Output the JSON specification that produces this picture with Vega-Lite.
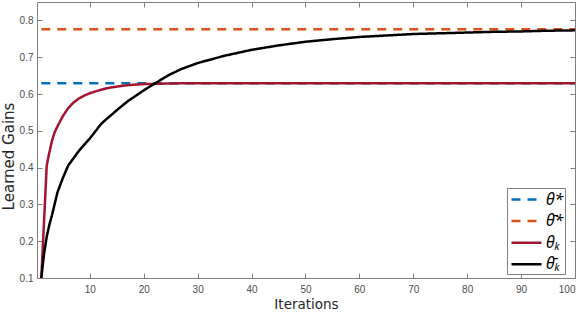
{
  "$schema": "https://vega.github.io/schema/vega-lite/v6.json",
  "width": 538,
  "height": 276,
  "autosize": {"type": "none"},
  "padding": {"left": 37, "top": 2, "right": 9, "bottom": 36},
  "background": "white",
  "datasets": {
    "main": [
      {"series": "θ*", "x": 1, "y": 0.629},
      {"series": "θ*", "x": 100, "y": 0.629},
      {"series": "θ̄*", "x": 1, "y": 0.776},
      {"series": "θ̄*", "x": 100, "y": 0.776},
      {"series": "θₖ", "x": 1, "y": 0.1},
      {"series": "θₖ", "x": 2, "y": 0.405},
      {"series": "θₖ", "x": 2.4, "y": 0.435},
      {"series": "θₖ", "x": 3, "y": 0.474},
      {"series": "θₖ", "x": 3.5, "y": 0.497},
      {"series": "θₖ", "x": 4, "y": 0.512},
      {"series": "θₖ", "x": 5, "y": 0.54},
      {"series": "θₖ", "x": 6, "y": 0.562},
      {"series": "θₖ", "x": 7, "y": 0.577},
      {"series": "θₖ", "x": 8, "y": 0.588},
      {"series": "θₖ", "x": 9, "y": 0.596},
      {"series": "θₖ", "x": 10, "y": 0.602},
      {"series": "θₖ", "x": 11, "y": 0.607},
      {"series": "θₖ", "x": 12, "y": 0.611},
      {"series": "θₖ", "x": 13, "y": 0.615},
      {"series": "θₖ", "x": 14, "y": 0.618},
      {"series": "θₖ", "x": 15, "y": 0.62},
      {"series": "θₖ", "x": 16, "y": 0.622},
      {"series": "θₖ", "x": 17, "y": 0.624},
      {"series": "θₖ", "x": 18, "y": 0.625},
      {"series": "θₖ", "x": 20, "y": 0.627},
      {"series": "θₖ", "x": 23, "y": 0.628},
      {"series": "θₖ", "x": 27, "y": 0.629},
      {"series": "θₖ", "x": 100, "y": 0.629},
      {"series": "θ̄ₖ", "x": 1, "y": 0.1},
      {"series": "θ̄ₖ", "x": 1.5, "y": 0.165},
      {"series": "θ̄ₖ", "x": 2, "y": 0.212},
      {"series": "θ̄ₖ", "x": 2.5, "y": 0.245},
      {"series": "θ̄ₖ", "x": 3, "y": 0.272},
      {"series": "θ̄ₖ", "x": 4, "y": 0.333},
      {"series": "θ̄ₖ", "x": 5, "y": 0.372},
      {"series": "θ̄ₖ", "x": 6, "y": 0.406},
      {"series": "θ̄ₖ", "x": 7, "y": 0.426},
      {"series": "θ̄ₖ", "x": 8, "y": 0.446},
      {"series": "θ̄ₖ", "x": 9, "y": 0.463},
      {"series": "θ̄ₖ", "x": 10, "y": 0.479},
      {"series": "θ̄ₖ", "x": 11, "y": 0.498},
      {"series": "θ̄ₖ", "x": 12, "y": 0.517},
      {"series": "θ̄ₖ", "x": 13, "y": 0.531},
      {"series": "θ̄ₖ", "x": 14, "y": 0.543},
      {"series": "θ̄ₖ", "x": 15, "y": 0.556},
      {"series": "θ̄ₖ", "x": 16, "y": 0.568},
      {"series": "θ̄ₖ", "x": 17, "y": 0.58},
      {"series": "θ̄ₖ", "x": 18, "y": 0.59},
      {"series": "θ̄ₖ", "x": 19, "y": 0.6},
      {"series": "θ̄ₖ", "x": 20, "y": 0.61},
      {"series": "θ̄ₖ", "x": 21, "y": 0.619},
      {"series": "θ̄ₖ", "x": 22, "y": 0.628},
      {"series": "θ̄ₖ", "x": 23, "y": 0.637},
      {"series": "θ̄ₖ", "x": 24, "y": 0.646},
      {"series": "θ̄ₖ", "x": 25, "y": 0.654},
      {"series": "θ̄ₖ", "x": 27, "y": 0.668},
      {"series": "θ̄ₖ", "x": 30, "y": 0.684},
      {"series": "θ̄ₖ", "x": 35, "y": 0.704},
      {"series": "θ̄ₖ", "x": 40, "y": 0.72},
      {"series": "θ̄ₖ", "x": 45, "y": 0.732},
      {"series": "θ̄ₖ", "x": 50, "y": 0.742},
      {"series": "θ̄ₖ", "x": 55, "y": 0.749},
      {"series": "θ̄ₖ", "x": 60, "y": 0.755},
      {"series": "θ̄ₖ", "x": 65, "y": 0.759},
      {"series": "θ̄ₖ", "x": 70, "y": 0.763},
      {"series": "θ̄ₖ", "x": 75, "y": 0.765},
      {"series": "θ̄ₖ", "x": 80, "y": 0.767},
      {"series": "θ̄ₖ", "x": 85, "y": 0.769},
      {"series": "θ̄ₖ", "x": 90, "y": 0.77},
      {"series": "θ̄ₖ", "x": 95, "y": 0.772},
      {"series": "θ̄ₖ", "x": 100, "y": 0.773}
    ]
  },
  "data": {"name": "main"},
  "layer": [
    {
      "encoding": {
        "x": {
          "field": "x",
          "type": "quantitative",
          "scale": {"domain": [0.2, 100], "nice": false, "zero": false},
          "axis": {
            "orient": "bottom",
            "title": "Iterations",
            "values": [10, 20, 30, 40, 50, 60, 70, 80, 90, 100],
            "tickSize": -5,
            "labelPadding": 11,
            "titlePadding": 3,
            "titleFontSize": 13.5
          }
        },
        "y": {
          "field": "y",
          "type": "quantitative",
          "scale": {"domain": [0.1, 0.85], "nice": false, "zero": false},
          "axis": {
            "orient": "left",
            "title": "Learned Gains",
            "values": [0.1, 0.2, 0.3, 0.4, 0.5, 0.6, 0.7, 0.8],
            "format": ".1f",
            "tickSize": -5,
            "labelPadding": 9,
            "titlePadding": 3,
            "titleFontSize": 15,
            "titleY": 154
          }
        },
        "color": {
          "field": "series",
          "type": "nominal",
          "scale": {
            "domain": ["θ*", "θ̄*", "θₖ", "θ̄ₖ"],
            "range": ["#0072BD", "#D95319", "#A2142F", "#000000"]
          },
          "legend": {"title": null}
        },
        "strokeDash": {
          "field": "series",
          "type": "nominal",
          "scale": {
            "domain": ["θ*", "θ̄*", "θₖ", "θ̄ₖ"],
            "range": [[9, 7], [9, 7], [1, 0], [1, 0]]
          },
          "legend": {"title": null}
        }
      },
      "layer": [
        {
          "transform": [{"filter": "datum.series === 'θ*' || datum.series === 'θ̄*'"}],
          "mark": {"type": "line", "strokeWidth": 2.5, "clip": true}
        },
        {
          "transform": [{"filter": "datum.series === 'θₖ'"}],
          "mark": {"type": "line", "strokeWidth": 2.5, "clip": true}
        },
        {
          "transform": [{"filter": "datum.series === 'θ̄ₖ'"}],
          "mark": {"type": "line", "strokeWidth": 2.5, "clip": true}
        }
      ]
    },
    {
      "transform": [{"filter": "datum.series === 'θ̄ₖ'"}],
      "mark": {"type": "line", "strokeWidth": 2.5, "opacity": 0},
      "encoding": {
        "x": {
          "field": "x",
          "type": "quantitative",
          "scale": {"domain": [0.2, 100], "nice": false, "zero": false},
          "axis": {
            "orient": "top",
            "title": null,
            "labels": false,
            "values": [10, 20, 30, 40, 50, 60, 70, 80, 90, 100],
            "tickSize": -5
          }
        },
        "y": {
          "field": "y",
          "type": "quantitative",
          "scale": {"domain": [0.1, 0.85], "nice": false, "zero": false},
          "axis": {
            "orient": "right",
            "title": null,
            "labels": false,
            "values": [0.1, 0.2, 0.3, 0.4, 0.5, 0.6, 0.7, 0.8],
            "tickSize": -5
          }
        }
      }
    }
  ],
  "resolve": {"axis": {"x": "independent", "y": "independent"}},
  "config": {
    "view": {"stroke": "#7f7f7f", "strokeWidth": 1},
    "axis": {
      "grid": false,
      "domain": false,
      "tickColor": "#7f7f7f",
      "tickWidth": 1,
      "labelFont": "Liberation Sans",
      "labelFontSize": 10,
      "labelColor": "#4d4d4d",
      "titleFont": "DejaVu Sans",
      "titleFontSize": 14,
      "titleFontWeight": "normal",
      "titleColor": "#262626"
    },
    "legend": {
      "orient": "none",
      "legendX": 470,
      "legendY": 186,
      "fillColor": "white",
      "strokeColor": "#7f7f7f",
      "padding": 1,
      "symbolType": "M-1.667,0H1.667",
      "symbolSize": 324,
      "symbolOffset": 8,
      "symbolStrokeWidth": 2.5,
      "labelFont": "Noto Sans",
      "labelFontStyle": "italic",
      "labelFontSize": 16,
      "labelColor": "black",
      "labelOffset": 9,
      "rowPadding": 2.6
    }
  }
}
